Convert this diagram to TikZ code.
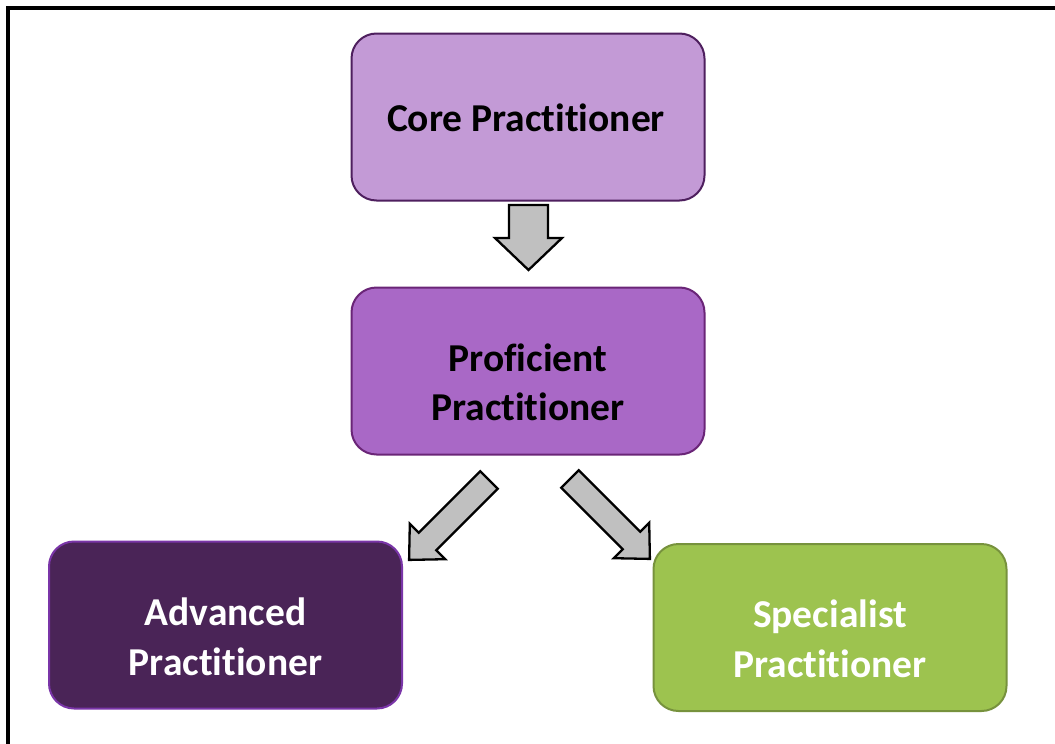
\documentclass[tikz,border=0pt]{standalone}
\usepackage{fontspec}
\setmainfont{Carlito}[Ligatures={NoCommon}]
\definecolor{coreFill}{HTML}{C39AD6}
\definecolor{coreLine}{HTML}{4E1F5E}
\definecolor{profFill}{HTML}{A968C6}
\definecolor{profLine}{HTML}{6A2577}
\definecolor{advFill}{HTML}{4A2457}
\definecolor{advLine}{HTML}{7A35A8}
\definecolor{specFill}{HTML}{9DC34F}
\definecolor{specLine}{HTML}{77923D}
\definecolor{arrFill}{HTML}{C0C0C0}
\tikzset{
  box/.style={draw, line width=2pt, rounded corners=25pt, minimum width=353pt, minimum height=167pt, inner sep=0pt},
  txt/.style={font=\bfseries\fontsize{39.5}{49.5}\selectfont, align=center, inner sep=0pt},
  blockarrow/.style={draw=black, fill=arrFill, line width=2.3pt, line join=miter}
}
\begin{document}
\begin{tikzpicture}[x=1pt,y=-1pt]
\useasboundingbox (0,0) rectangle (1055,744);
\clip (0,0) rectangle (1055,744);
\fill[white] (0,0) rectangle (1055,744);
\draw[line width=3.5pt] (7.75,7.75) rectangle (1200,900);
% boxes
\node[box, fill=coreFill, draw=coreLine] (core) at (528,117) {};
\node[box, fill=profFill, draw=profLine] (prof) at (528,371) {};
\node[box, fill=advFill, draw=advLine] (adv) at (225.5,625) {};
\node[box, fill=specFill, draw=specLine] (spec) at (830,627.5) {};
% labels
\node[txt, anchor=base] (coreT) at (526,131) {Core Practitioner};
\node[txt, anchor=base] (profT) at (528,420.5) {Proficient\\Practitioner};
\node[txt, anchor=base, text=white] (advT) at (225.5,675) {Advanced\\Practitioner};
\node[txt, anchor=base, text=white] (specT) at (830,677) {Specialist\\Practitioner};
% block arrows
\draw[blockarrow] (509,205) -- (548,205) -- (548,238) -- (562,238) -- (528.5,270) -- (495,238) -- (509,238) -- cycle;
\draw[blockarrow] (480.2,471.2) -- (497.8,488.8) -- (436.3,550.3) -- (445.2,559.2) -- (409.1,559.9) -- (409.8,523.8) -- (418.7,532.7) -- cycle;
\draw[blockarrow] (578.8,470.2) -- (640.3,531.7) -- (649.2,522.8) -- (649.9,558.9) -- (613.8,558.2) -- (622.7,549.3) -- (561.2,487.8) -- cycle;
\end{tikzpicture}
\end{document}
